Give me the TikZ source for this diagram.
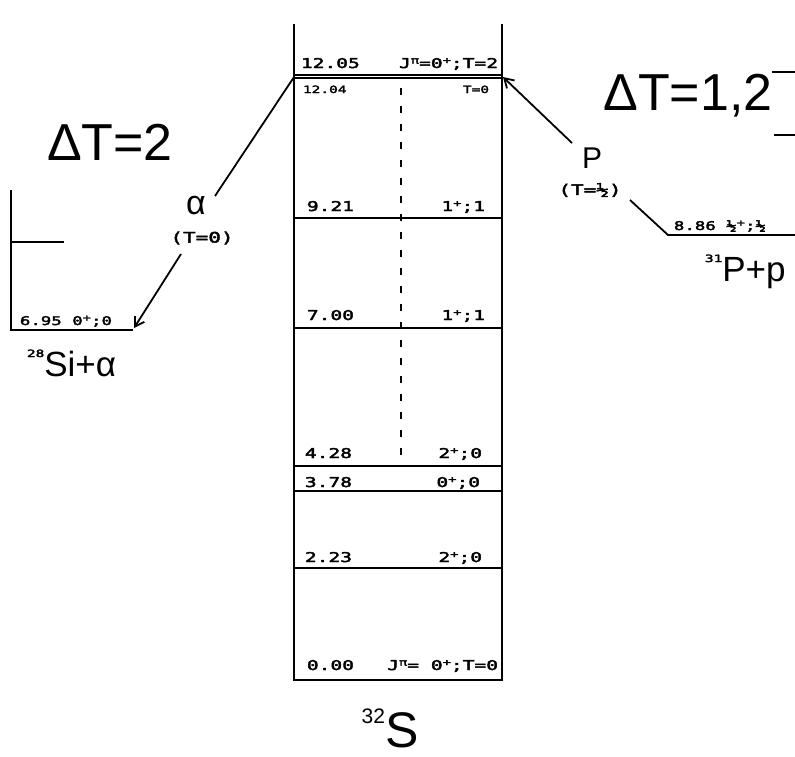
\documentclass[tikz,border=0pt]{standalone}
\usepackage{fontspec}
\setmainfont{Liberation Sans}
\newfontfamily\lab[FakeStretch=1.45,FakeBold=3]{DejaVu Sans Mono}
\newfontfamily\thin{Liberation Sans}
\newcommand\supx[1]{\raisebox{0.6ex}{\fontsize{9.5}{9.5}\selectfont #1}}
\usetikzlibrary{arrows.meta}
\begin{document}
\begin{tikzpicture}[x=1pt,y=-1pt,line width=1.8pt,
  tip/.style={-{Straight Barb[length=9pt,width=11pt]}},
  lbl/.style={font=\lab\fontsize{13.5}{14}\selectfont, inner sep=0pt, anchor=base west},
  lblr/.style={lbl, anchor=base east},
  small/.style={font=\lab\fontsize{10}{10}\selectfont, inner sep=0pt, anchor=base west},
  smallr/.style={small, anchor=base east},
  big/.style={font=\thin\fontsize{52}{52}\selectfont, inner sep=0pt},
  mid/.style={font=\thin\fontsize{35}{35}\selectfont, inner sep=0pt},
  paren/.style={font=\lab\fontsize{14.5}{15}\selectfont, inner sep=0pt}]
\useasboundingbox (0,0) rectangle (795,756);

% central box of 32S
\draw (294,24) -- (294,680) -- (502,680) -- (502,24);
\draw (294,75) -- (502,75);
\draw (294,78) -- (502,78);
\draw (294,218) -- (502,218);
\draw (294,328) -- (502,328);
\draw (294,466) -- (502,466);
\draw (294,491) -- (502,491);
\draw (294,568) -- (502,568);
\coordinate (topL) at (294,77);
\coordinate (topR) at (503,77);
\coordinate (dashA) at (401,88);
\coordinate (dashB) at (401,462);
\draw[dash pattern=on 7pt off 11pt] (dashA) -- (dashB);

\node[lbl] (l1205) at (300,68) {12.05};
\node[lblr] (j1205) at (499,68) {J\supx{π}=0\supx{+};T=2};
\node[small] (l1204) at (302,93) {12.04};
\node[smallr] (j1204) at (490,93) {T=0};
\node[lbl] (l921) at (306,211) {9.21};
\node[lblr] (j921) at (486,211) {1\supx{+};1};
\node[lbl] (l700) at (306,320) {7.00};
\node[lblr] (j700) at (486,320) {1\supx{+};1};
\node[lbl] (l428) at (304,458) {4.28};
\node[lblr] (j428) at (483,458) {2\supx{+};0};
\node[lbl] (l378) at (304,487) {3.78};
\node[lblr] (j378) at (481,487) {0\supx{+};0};
\node[lbl] (l223) at (304,562) {2.23};
\node[lblr] (j223) at (483,562) {2\supx{+};0};
\node[lbl] (l000) at (306,670) {0.00};
\node[lblr] (j000) at (499,670) {J\supx{π}= 0\supx{+};T=0};
\node[inner sep=0pt, anchor=base] (s32) at (390,747) {\raisebox{24pt}{\fontsize{21}{21}\selectfont 32}\fontsize{50}{50}\selectfont S};

% left: 28Si + alpha
\coordinate (siTop) at (11,190);
\coordinate (siCorner) at (11,330);
\coordinate (siEnd) at (133,330);
\coordinate (siMidA) at (11,242);
\coordinate (siMidB) at (64,242);
\draw (siTop) -- (siCorner) -- (siEnd);
\draw[line width=1.3pt] (siMidA) -- (siMidB);
\node[lbl, font=\lab\fontsize{12}{12}\selectfont] (l695) at (19,325) {6.95 0\supx{+};0};
\node[mid, anchor=base west] (si) at (26,376) {\raisebox{19pt}{\lab\fontsize{10}{10}\selectfont 28}Si+α};
\node[big] (dT2) at (110,142) {ΔT=2};
\node[font=\thin\fontsize{34}{34}\selectfont, inner sep=0pt] (alpha) at (196,206) {α};
\node[paren] (alphaT) at (202,238) {(T=0)};
\coordinate (a1) at (215,196);
\coordinate (a2) at (181,254);
\coordinate (aTip) at (134,328);
\draw (topL) -- (a1);
\draw[tip] (a2) -- (aTip);

% right: 31P + p
\node[big] (dT12) at (688,96) {ΔT=1,2};
\coordinate (rA) at (772,72);
\coordinate (rB) at (795,72);
\coordinate (rC) at (774,135);
\coordinate (rD) at (795,135);
\draw[line width=1.3pt] (rA) -- (rB);
\draw[line width=1.3pt] (rC) -- (rD);
\node[font=\thin\fontsize{30}{30}\selectfont, inner sep=0pt] (p) at (592,158) {P};
\node[paren] (pT) at (590,190) {(T=½)};
\coordinate (p1) at (572,143);
\coordinate (p2) at (630,200);
\coordinate (pL) at (668,235);
\coordinate (pR) at (795,235);
\draw[tip] (p1) -- (topR);
\draw (p2) -- (pL) -- (pR);
\node[lbl, font=\lab\fontsize{12}{12}\selectfont] (l886) at (673,230) {8.86 ½\supx{+};½};
\node[mid, anchor=base west] (pp) at (704,281) {\raisebox{19pt}{\lab\fontsize{10}{10}\selectfont 31}P+p};
\end{tikzpicture}
\end{document}
